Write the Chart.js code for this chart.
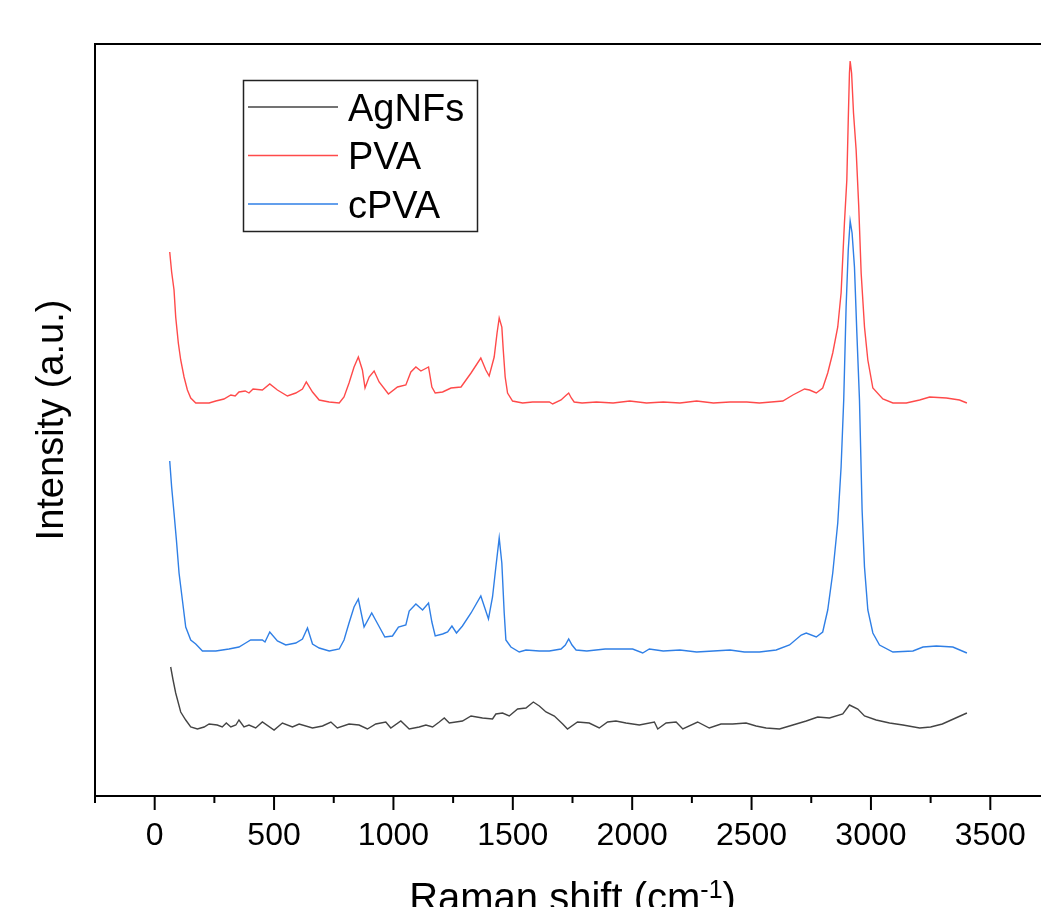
<!DOCTYPE html>
<html>
<head>
<meta charset="utf-8">
<script src="https://cdn.jsdelivr.net/npm/chart.js@4.4.1/dist/chart.umd.min.js"></script>
<style>
  html, body { margin: 0; padding: 0; overflow: hidden; background: #fff; }
  #wrap { width: 1041px; height: 907px; overflow: hidden; }
</style>
</head>
<body>
<div id="wrap"><canvas id="raman" width="1063" height="907"></canvas></div>
<script>
// Raman shift (cm-1) and intensity (a.u.)
const agX = [67,77,88,109,130,151,179,207,228,262,283,300,319,340,353,374,395,423,451,500,535,577,605,661,703,738,765,814,856,891,926,968,989,1031,1066,1108,1136,1164,1192,1213,1234,1289,1325,1373,1415,1429,1457,1485,1520,1555,1586,1611,1639,1674,1709,1729,1771,1820,1862,1897,1932,1974,2030,2093,2107,2142,2184,2212,2274,2323,2372,2421,2477,2519,2561,2617,2673,2729,2777,2826,2882,2910,2945,2973,3022,3078,3134,3204,3250,3299,3355,3402];
const agY = [129,116,103,84,76,69,67,69,72,71,69,73,69,71,76,69,71,68,74,66,73,69,72,68,70,74,68,72,71,67,72,74,68,75,67,69,71,69,74,78,73,75,80,78,77,82,83,80,87,88,94,90,84,80,72,67,74,73,68,74,75,73,71,74,67,73,74,67,74,68,72,72,73,70,68,67,71,75,79,78,82,91,87,80,76,73,71,68,69,72,78,83];

const pvaX = [63,71,81,88,99,109,123,137,151,172,200,228,256,290,319,337,353,379,395,412,451,482,514,556,591,619,635,661,689,731,773,793,814,835,853,870,881,898,919,940,979,1017,1052,1073,1094,1115,1147,1161,1175,1206,1241,1283,1325,1366,1387,1401,1422,1434,1443,1454,1460,1468,1478,1499,1541,1583,1653,1667,1702,1720,1734,1745,1757,1790,1850,1920,1990,2060,2130,2200,2270,2340,2410,2480,2533,2631,2673,2722,2743,2771,2798,2819,2840,2861,2875,2889,2899,2905,2910,2913,2919,2927,2938,2949,2959,2973,2987,3008,3050,3092,3148,3204,3246,3316,3371,3402];
const pvaY = [544,524,506,479,453,436,419,406,398,393,393,393,395,397,401,400,404,405,403,407,406,412,406,400,403,407,414,404,396,394,393,399,413,429,439,426,408,419,425,414,402,409,411,424,429,425,429,409,403,404,408,409,423,438,426,420,439,463,478,469,446,419,403,395,393,394,394,392,396,400,403,398,394,393,394,393,395,393,394,393,395,393,394,394,393,395,401,407,406,403,408,423,443,469,503,573,616,676,723,735,723,683,646,589,523,469,436,408,397,393,393,396,399,398,396,393];

const cpvaX = [63,71,81,91,102,116,130,151,172,200,256,311,353,381,402,451,462,482,514,549,591,619,640,661,689,731,773,793,814,835,853,877,909,932,964,996,1021,1052,1066,1094,1122,1147,1161,1175,1206,1227,1245,1264,1289,1325,1366,1398,1415,1429,1443,1454,1464,1471,1492,1527,1555,1611,1653,1702,1720,1734,1748,1765,1810,1887,2002,2044,2072,2130,2200,2270,2340,2410,2470,2533,2603,2659,2708,2729,2771,2798,2819,2840,2861,2875,2886,2896,2905,2913,2921,2931,2941,2952,2963,2973,2987,3008,3036,3092,3176,3218,3274,3343,3402];
const cpvaY = [335,309,283,256,223,196,169,156,152,145,145,147,149,153,156,156,154,164,155,151,153,157,168,152,148,145,147,156,173,189,197,169,183,173,159,160,169,171,185,192,186,193,174,160,162,164,170,163,170,183,200,177,199,229,258,233,183,156,149,144,146,145,145,147,151,157,151,146,145,147,147,143,147,145,146,144,145,146,144,144,146,151,161,163,159,164,186,223,273,329,396,489,546,575,563,529,463,396,286,229,186,163,151,144,145,149,150,149,143];

const seriesNames = ['AgNFs', 'PVA', 'cPVA'];
const seriesColors = ['#444444', '#ff4a4a', '#2f7fe6'];
const xTickValues = [0, 500, 1000, 1500, 2000, 2500, 3000, 3500];

const pts = (xs, ys) => xs.map((x, i) => ({ x: x, y: ys[i] }));
const FONT = '"Liberation Sans", Arial, sans-serif';

const framePlugin = {
    id: 'framePlugin',
    afterDraw: (chart) => {
        const { ctx, chartArea: { left, right, top, bottom }, scales: { x } } = chart;
        ctx.save();
        ctx.strokeStyle = '#000';
        ctx.lineWidth = 2;
        ctx.beginPath();
        ctx.moveTo(right, top);
        ctx.lineTo(left, top);
        ctx.lineTo(left, bottom);
        ctx.lineTo(right, bottom);
        ctx.stroke();

        // major / minor ticks below the axis
        x.ticks.forEach(t => {
            const px = x.getPixelForValue(t.value);
            const len = xTickValues.includes(t.value) ? 14 : 7;
            ctx.beginPath();
            ctx.moveTo(px, bottom);
            ctx.lineTo(px, bottom + len);
            ctx.stroke();
        });

        // axis titles
        ctx.fillStyle = '#000';
        ctx.textBaseline = 'alphabetic';
        ctx.textAlign = 'left';
        const main = 'Raman shift (cm', sup = '-1', close = ')';
        ctx.font = '40px ' + FONT;
        const wMain = ctx.measureText(main).width;
        const wClose = ctx.measureText(close).width;
        ctx.font = '25px ' + FONT;
        const wSup = ctx.measureText(sup).width;
        const sx = (left + right) / 2 - (wMain + wSup + wClose) / 2;
        const base = 911;
        ctx.font = '40px ' + FONT;
        ctx.fillText(main, sx, base);
        ctx.font = '25px ' + FONT;
        ctx.fillText(sup, sx + wMain, base - 13);
        ctx.font = '40px ' + FONT;
        ctx.fillText(close, sx + wMain + wSup, base);

        ctx.font = '38px ' + FONT;
        ctx.translate(63, (top + bottom) / 2);
        ctx.rotate(-Math.PI / 2);
        ctx.textAlign = 'center';
        ctx.fillText('Intensity (a.u.)', 0, 0);
        ctx.restore();

        // legend box
        ctx.save();
        ctx.strokeStyle = '#222';
        ctx.lineWidth = 1.5;
        ctx.strokeRect(243.5, 80.5, 234, 151);
        ctx.font = '38px ' + FONT;
        ctx.textAlign = 'left';
        ctx.textBaseline = 'alphabetic';
        chart.data.datasets.forEach((ds, i) => {
            const ly = 107 + i * 48.5;
            ctx.strokeStyle = ds.borderColor;
            ctx.lineWidth = 1.4;
            ctx.beginPath();
            ctx.moveTo(248, ly);
            ctx.lineTo(338, ly);
            ctx.stroke();
            ctx.fillStyle = '#000';
            ctx.fillText(ds.label, 348, ly + 13.5);
        });
        ctx.restore();
    }
};

new Chart(document.getElementById('raman'), {
    type: 'line',
    data: {
        datasets: [
            { label: seriesNames[0], data: pts(agX, agY), borderColor: seriesColors[0] },
            { label: seriesNames[1], data: pts(pvaX, pvaY), borderColor: seriesColors[1] },
            { label: seriesNames[2], data: pts(cpvaX, cpvaY), borderColor: seriesColors[2] }
        ].map(d => Object.assign(d, { borderWidth: 1.4, pointRadius: 0, tension: 0, fill: false }))
    },
    options: {
        responsive: false,
        animation: false,
        devicePixelRatio: 1,
        layout: { padding: { top: 44, right: 10, left: 0, bottom: 0 } },
        scales: {
            x: {
                type: 'linear',
                min: -250,
                max: 3750,
                grid: { display: false },
                border: { display: false },
                afterFit: (s) => { s.height = 111; },
                afterBuildTicks: (s) => {
                    const out = [];
                    for (let v = -250; v <= 3750; v += 250) out.push({ value: v });
                    s.ticks = out;
                },
                ticks: {
                    autoSkip: false,
                    maxRotation: 0,
                    padding: 13,
                    color: '#000',
                    font: { family: FONT, size: 32 },
                    callback: (v) => xTickValues.includes(v) ? String(v) : ''
                }
            },
            y: {
                min: 0,
                max: 752,
                grid: { display: false },
                border: { display: false },
                ticks: { display: false },
                afterFit: (s) => { s.width = 95; }
            }
        },
        plugins: {
            legend: { display: false },
            tooltip: { enabled: false }
        }
    },
    plugins: [framePlugin]
});
</script>
</body>
</html>
